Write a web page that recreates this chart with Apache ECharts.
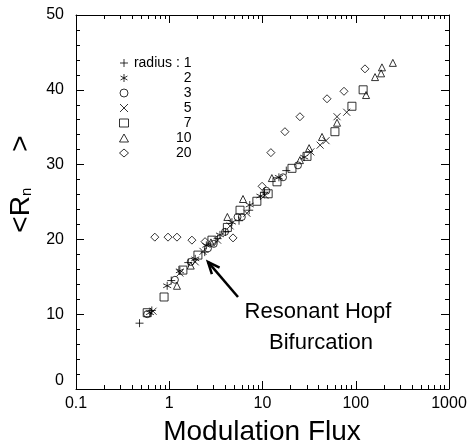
<!DOCTYPE html>
<html>
<head>
<meta charset="utf-8">
<script src="https://cdn.jsdelivr.net/npm/echarts@6/dist/echarts.min.js"></script>
<style>
  html, body { margin: 0; padding: 0; background: #fff; }
  #main { width: 476px; height: 447px; }
</style>
</head>
<body>
<div id="main"></div>
<script>
var FONT = 'Liberation Sans, Arial, sans-serif';

// legend names
var radiusNames = ['radius : 1', '2', '3', '5', '7', '10', '20'];
// tick values
var xTicks = [0.1, 1, 10, 100, 1000];
var xMinorTicks = [0.2, 0.3, 0.4, 0.5, 0.6, 0.7, 0.8, 0.9,
                   2, 3, 4, 5, 6, 7, 8, 9,
                   20, 30, 40, 50, 60, 70, 80, 90,
                   200, 300, 400, 500, 600, 700, 800, 900];

// [modulation flux, <Rn>] per radius
var r1 = [[0.48, 8.8], [0.65, 10.5], [1.05, 14.5], [1.6, 16.9], [2.4, 18.3], [3.3, 20.1],
          [4.0, 21.0], [5.6, 22.5], [7.2, 23.9], [10.5, 26.3], [18, 29.2]];
var r2 = [[0.62, 10.2], [0.95, 13.8], [1.3, 15.8], [1.9, 17.4], [2.5, 19.2], [3.5, 20.6],
          [4.7, 22.3], [7.3, 24.6], [9.5, 25.8], [15, 28.3], [28, 31.0]];
var r3 = [[0.58, 10.0], [1.15, 14.6], [1.7, 17.0], [2.6, 18.8], [3.0, 19.4], [3.96, 21.0],
          [5.4, 23.0], [6.0, 23.0], [11, 26.5], [16.6, 28.3], [24, 29.9]];
var r5 = [[0.67, 10.4], [1.3, 15.5], [1.9, 17.0], [2.3, 18.4], [3.3, 19.9], [4.5, 21.8],
          [6.8, 23.5], [10.6, 25.9], [33, 31.7], [41.5, 32.6], [48, 33.2], [63, 36.4], [80, 37.0]];
var r7 = [[0.58, 10.2], [0.88, 12.3], [1.4, 15.9], [2.03, 17.9], [2.87, 19.9], [4.2, 21.6],
          [5.74, 23.9], [8.7, 25.1], [11.5, 26.1], [14.3, 27.7], [20.7, 29.5], [30, 31.1],
          [59.8, 34.4], [91, 37.8], [120, 40.0]];
var r10 = [[1.21, 13.8], [1.7, 16.5], [2.8, 19.6], [4.2, 23.0], [6.18, 25.4], [12.6, 28.2],
           [25.2, 30.6], [31.6, 32.2], [43.5, 33.7], [63, 35.6], [129, 39.3], [161, 41.7],
           [187, 42.2], [191, 43.0], [250, 43.6]];
var r20 = [[0.70, 20.3], [0.97, 20.3], [1.21, 20.3], [1.75, 19.9], [2.42, 19.7], [4.83, 20.2],
           [9.9, 27.1], [12.3, 31.6], [17.4, 34.4], [25.2, 36.4], [49.2, 38.8], [74.8, 39.8],
           [125.6, 42.8]];

// annotation arrow (data coords)
var arrowTip = [2.6, 17.0];
var arrowTail = [5.46, 12.3];

var PLUS = 'path://M5,0L5,10M0,5L10,5';
var STAR = 'path://M5,0L5,10M0.7,2.5L9.3,7.5M0.7,7.5L9.3,2.5';
var CROSS = 'path://M0,0L10,10M0,10L10,0';

function mk(name, data, symbol, size) {
  return {
    type: 'scatter',
    name: name,
    data: data,
    symbol: symbol,
    symbolSize: size,
    itemStyle: { color: 'rgba(0,0,0,0)', borderColor: '#000', borderWidth: 1 },
    emphasis: { disabled: true }
  };
}

function logAxis(pos, ticks, len, withLabel, withLine) {
  return {
    type: 'log', logBase: 10, min: 0.1, max: 1000, position: pos,
    axisLine: { show: withLine, lineStyle: { color: '#000', width: 1 } },
    axisTick: { show: true, inside: true, length: len, customValues: ticks,
                lineStyle: { color: '#000', width: 1 } },
    axisLabel: { show: withLabel, customValues: ticks, color: '#000', fontSize: 16,
                 fontFamily: FONT, margin: 7, formatter: function (v) { return String(v); } },
    splitLine: { show: false },
    minorTick: { show: false }
  };
}

function valAxis(pos, withLabel) {
  return {
    type: 'value', min: 0, max: 50, interval: 10, position: pos,
    axisLine: { show: true, lineStyle: { color: '#000', width: 1 } },
    axisTick: { show: true, inside: true, length: 8, lineStyle: { color: '#000' } },
    minorTick: { show: true, splitNumber: 5, length: 4, lineStyle: { color: '#000' } },
    axisLabel: {
      show: withLabel, color: '#000', fontSize: 16, fontFamily: FONT, margin: 12,
      formatter: function (v) { return v === 0 ? '{z|0}' : String(v); },
      rich: { z: { fontSize: 16, fontFamily: FONT, color: '#000', padding: [0, 0, 16, 0] } }
    },
    splitLine: { show: false }
  };
}

var chart = echarts.init(document.getElementById('main'), null, { renderer: 'canvas' });

chart.setOption({
  animation: false,
  backgroundColor: '#fff',
  grid: { left: 76, right: 27, top: 15, bottom: 58 },
  xAxis: [
    logAxis('bottom', xTicks, 8, true, true),
    logAxis('bottom', xMinorTicks, 4, false, false),
    logAxis('top', xTicks, 8, false, true),
    logAxis('top', xMinorTicks, 4, false, false)
  ],
  yAxis: [valAxis('left', true), valAxis('right', false)],
  legend: {
    orient: 'vertical', left: 119, top: 56, padding: 0,
    itemWidth: 9, itemHeight: 8, itemGap: 1,
    selectedMode: false,
    data: radiusNames,
    itemStyle: { color: 'rgba(0,0,0,0)', borderColor: '#000', borderWidth: 1 },
    formatter: function (n) { return '{t|' + n + '}'; },
    textStyle: {
      fontSize: 14, lineHeight: 14,
      rich: { t: { width: 58, align: 'right', fontSize: 14, lineHeight: 14,
                   color: '#000', fontFamily: FONT } }
    }
  },
  series: [
    mk(radiusNames[0], r1, PLUS, 8),
    mk(radiusNames[1], r2, STAR, 8),
    mk(radiusNames[2], r3, 'circle', 7),
    mk(radiusNames[3], r5, CROSS, 7),
    mk(radiusNames[4], r7, 'rect', 8),
    mk(radiusNames[5], r10, 'triangle', 7),
    mk(radiusNames[6], r20, 'diamond', 8)
  ]
});

var tip = chart.convertToPixel({ xAxisIndex: 0, yAxisIndex: 0 }, arrowTip);
var tail = chart.convertToPixel({ xAxisIndex: 0, yAxisIndex: 0 }, arrowTail);
var ang = Math.atan2(tail[1] - tip[1], tail[0] - tip[0]);
var hl = 13, ha = 0.4;
var h1 = [tip[0] + hl * Math.cos(ang + ha), tip[1] + hl * Math.sin(ang + ha)];
var h2 = [tip[0] + hl * Math.cos(ang - ha), tip[1] + hl * Math.sin(ang - ha)];

chart.setOption({
  graphic: [
    { type: 'line', shape: { x1: tail[0], y1: tail[1], x2: tip[0], y2: tip[1] },
      style: { stroke: '#000', lineWidth: 2.5 } },
    { type: 'polyline', shape: { points: [h1, tip, h2] },
      style: { stroke: '#000', lineWidth: 2.5, fill: null } },
    { type: 'text', x: 318, y: 312,
      style: { text: 'Resonant Hopf', fontSize: 22, fontFamily: FONT, fill: '#000',
               align: 'center', verticalAlign: 'middle' } },
    { type: 'text', x: 321, y: 343,
      style: { text: 'Bifurcation', fontSize: 22, fontFamily: FONT, fill: '#000',
               align: 'center', verticalAlign: 'middle' } },
    { type: 'text', x: 262, y: 432,
      style: { text: 'Modulation Flux', fontSize: 28, fontFamily: FONT, fill: '#000',
               align: 'center', verticalAlign: 'middle' } },
    { type: 'text', x: 21, y: 184, rotation: Math.PI / 2,
      style: {
        text: '{m|<R}{s|n}{g|}{m|>}',
        align: 'center', verticalAlign: 'middle',
        rich: {
          m: { fontSize: 28, fontFamily: FONT, fill: '#000', color: '#000' },
          s: { fontSize: 15, fontFamily: FONT, color: '#000', padding: [12, 0, 0, 0] },
          g: { width: 36 }
        }
      } }
  ]
});
</script>
</body>
</html>
